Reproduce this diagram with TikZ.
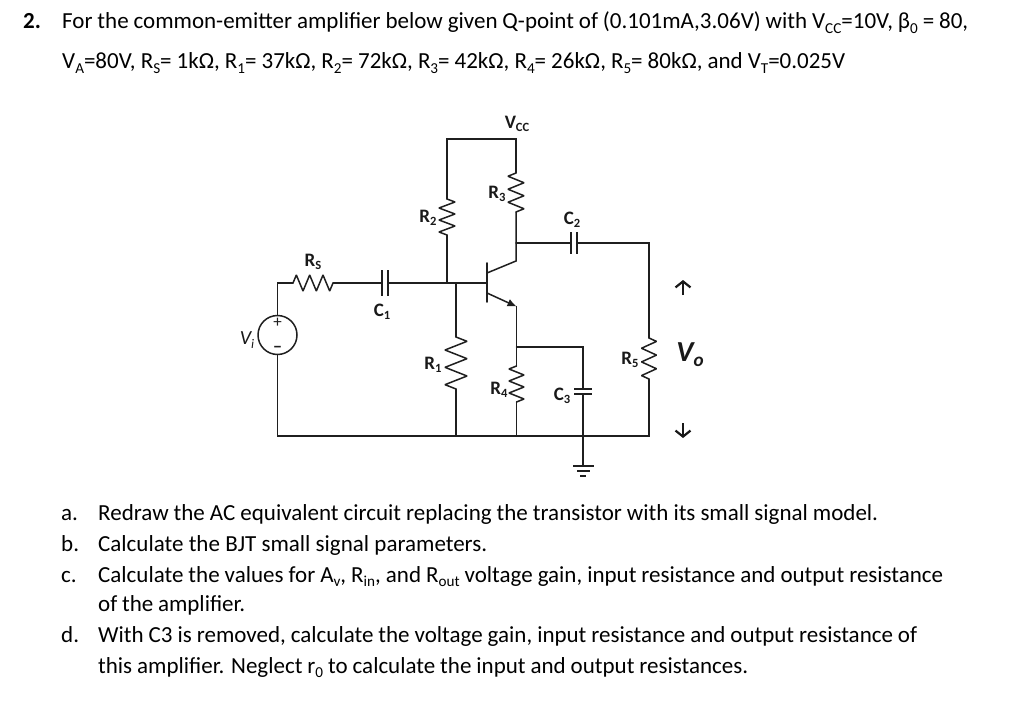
\documentclass[tikz,border=0pt]{standalone}
\usepackage{fontspec}
\setmainfont{Carlito}
\usetikzlibrary{arrows.meta,calc}
\newcommand{\sbs}[1]{\raisebox{-0.18em}{\scalebox{0.66}{#1}}}
\tikzset{
  x=1pt,y=-1pt,
  wire/.style={line width=1.5pt,black!88,line cap=round,line join=miter},
  textline/.style={anchor=base west,inner sep=0pt,font=\fontsize{23}{25}\selectfont,text=black},
  lab/.style={inner sep=0pt,font=\fontsize{19}{20}\selectfont\bfseries,text=black!90},
  voarrow/.style={line width=2.2pt,black!90,-{Straight Barb[length=6pt,width=15pt]}},
  source/.style={circle,draw,line width=1.5pt,black!88,minimum size=39pt,inner sep=0pt},
  plate/.style={line width=1.5pt,black!88},
}
% from, to, offset x, offset y of the first peak
\newcommand{\zz}[4]{%
  \draw[wire,line join=bevel] (#1)
   -- ($(#1)!1/12!(#2)+(#3,#4)$)
   -- ($(#1)!3/12!(#2)-(#3,#4)$)
   -- ($(#1)!5/12!(#2)+(#3,#4)$)
   -- ($(#1)!7/12!(#2)-(#3,#4)$)
   -- ($(#1)!9/12!(#2)+(#3,#4)$)
   -- ($(#1)!11/12!(#2)-(#3,#4)$)
   -- (#2);}
\newcommand{\tl}[4]{\node[textline] at (#1,#2) {\hbox to #3pt{#4}};}
\begin{document}
\begin{tikzpicture}
\useasboundingbox[fill=white] (0,0) rectangle (1024,722);

% text
\node[textline,font=\fontsize{23}{25}\selectfont\bfseries] at (23,29) {2.};
\tl{62}{29}{906}{For the common-emitter amplifier below given Q-point of (0.101mA,3.06V) with V\sbs{CC}=10V, β\sbs{0} = 80,}
\tl{62}{69}{783}{V\sbs{A}=80V, R\sbs{S}= 1kΩ, R\sbs{1}= 37kΩ, R\sbs{2}= 72kΩ, R\sbs{3}= 42kΩ, R\sbs{4}= 26kΩ, R\sbs{5}= 80kΩ, and V\sbs{T}=0.025V}
\node[textline] at (61,520) {a.};
\tl{98}{520}{780}{Redraw the AC equivalent circuit replacing the transistor with its small signal model.}
\node[textline] at (61,551) {b.};
\tl{98}{551}{389}{Calculate the BJT small signal parameters.}
\node[textline] at (61,582) {c.};
\tl{98}{582}{845}{Calculate the values for A\sbs{v}, R\sbs{in}, and R\sbs{out} voltage gain, input resistance and output resistance}
\tl{98}{611}{147}{of the amplifier.}
\node[textline] at (61,642) {d.};
\tl{98}{642}{819}{With C3 is removed, calculate the voltage gain, input resistance and output resistance of}
\tl{98}{673}{650}{this amplifier. Neglect r\sbs{0} to calculate the input and output resistances.}

% circuit coordinates
\coordinate (topL) at (447,139);
\coordinate (topR) at (516,139);
\coordinate (r2t) at (447,199);
\coordinate (r2b) at (447,235);
\coordinate (nb2) at (447,283);
\coordinate (r3t) at (516,173);
\coordinate (r3b) at (516,212);
\coordinate (nc) at (516,243);
\coordinate (cend) at (516,261);
\coordinate (bL) at (277.5,283);
\coordinate (rst) at (293,283);
\coordinate (rsb) at (333,283);
\coordinate (c1l) at (382,283);
\coordinate (c1r) at (388,283);
\coordinate (nb1) at (456,283);
\coordinate (bar) at (487,283);
\coordinate (bart) at (487,263);
\coordinate (barb) at (487,302);
\coordinate (barc) at (487,273);
\coordinate (bare) at (487,293);
\coordinate (eend) at (516.5,306.5);
\coordinate (ne) at (516.5,347);
\coordinate (r1t) at (456,337);
\coordinate (r1b) at (456,389);
\coordinate (g1) at (456,436);
\coordinate (gL) at (277.5,436);
\coordinate (r4t) at (516.5,366);
\coordinate (r4b) at (516.5,402);
\coordinate (g4) at (516.5,436);
\coordinate (c3tj) at (583,347);
\coordinate (c3t) at (583,389);
\coordinate (c3b) at (583,394);
\coordinate (g3) at (583,436);
\coordinate (gnd) at (583,466);
\coordinate (c2l) at (571,243);
\coordinate (c2r) at (577,243);
\coordinate (oT) at (649,243);
\coordinate (r5t) at (649,338);
\coordinate (r5b) at (649,379);
\coordinate (oB) at (649,436);

\node[source] (vs) at (277.5,335) {};
\node[inner sep=0pt,font=\fontsize{17}{17}\selectfont,text=black!88] (vsp) at (277.5,323) {+};
\node[inner sep=0pt,font=\fontsize{17}{17}\selectfont\bfseries,text=black!88] (vsm) at (277.5,349) {\textminus};

% wires
\draw[wire] (r2t) -- (topL) -- (topR) -- (r3t);
\draw[wire] (r2b) -- (nb2);
\draw[wire] (r3b) -- (nc) -- (cend) -- (barc);
\draw[wire] (vs.north) -- (bL) -- (rst);
\draw[wire] (rsb) -- (c1l);
\draw[wire] (c1r) -- (bar);
\draw[wire,line width=1.8pt] (bart) -- (barb);
\draw[wire] (nb1) -- (r1t);
\draw[wire] (r1b) -- (g1);
\draw[wire] (vs.south) -- (gL) -- (oB) -- (r5b);
\draw[wire,-{Latex[length=9pt,width=8pt]}] (bare) -- (eend);
\draw[wire] (eend) -- (ne) -- (r4t);
\draw[wire] (r4b) -- (g4);
\draw[wire] (ne) -- (c3tj) -- (c3t);
\draw[wire] (c3b) -- (g3) -- (gnd);
\draw[wire] (nc) -- (c2l);
\draw[wire] (c2r) -- (oT) -- (r5t);

% resistors
\zz{r2t}{r2b}{8}{0}
\zz{r3t}{r3b}{-8}{0}
\zz{rst}{rsb}{0}{-8}
\zz{r1t}{r1b}{11}{0}
\zz{r4t}{r4b}{-7.5}{0}
\zz{r5t}{r5b}{7.5}{0}

% capacitor plates
\draw[plate] (382,270) -- (382,296);
\draw[plate] (388,270) -- (388,296);
\draw[plate] (571,232) -- (571,254);
\draw[plate] (577,232) -- (577,254);
\draw[plate] (574,389) -- (592,389);
\draw[plate] (574,394) -- (592,394);

% ground
\draw[plate,line width=1.8pt] (573,466) -- (594,466);
\draw[plate,line width=1.8pt] (577,471) -- (590,471);
\draw[plate,line width=1.8pt] (580,476) -- (586,476);

% output arrows
\coordinate (au1) at (683,295);
\coordinate (au2) at (683,280);
\coordinate (ad1) at (683,423);
\coordinate (ad2) at (683,438);
\draw[voarrow] (au1) -- (au2);
\draw[voarrow] (ad1) -- (ad2);

% labels
\node[lab] (lvcc) at (517,124) {V\sbs{CC}};
\node[lab] (lr3) at (497,194) {R\sbs{3}};
\node[lab] (lr2) at (428,218) {R\sbs{2}};
\node[lab] (lc2) at (572,220) {C\sbs{2}};
\node[lab] (lrs) at (313,262) {R\sbs{S}};
\node[lab] (lc1) at (382,312) {C\sbs{1}};
\node[lab] (lr1) at (433,365) {R\sbs{1}};
\node[lab] (lr4) at (499,390) {R\sbs{4}};
\node[lab] (lc3) at (562,396) {C\sbs{3}};
\node[lab] (lr5) at (630,360) {R\sbs{5}};
\node[lab,font=\fontsize{20}{20}\selectfont\itshape] (lvi) at (247,340) {V\sbs{i}};
\node[lab,font=\fontsize{29}{30}\selectfont\bfseries\itshape] (lvo) at (690,355) {V\sbs{o}};
\end{tikzpicture}
\end{document}
